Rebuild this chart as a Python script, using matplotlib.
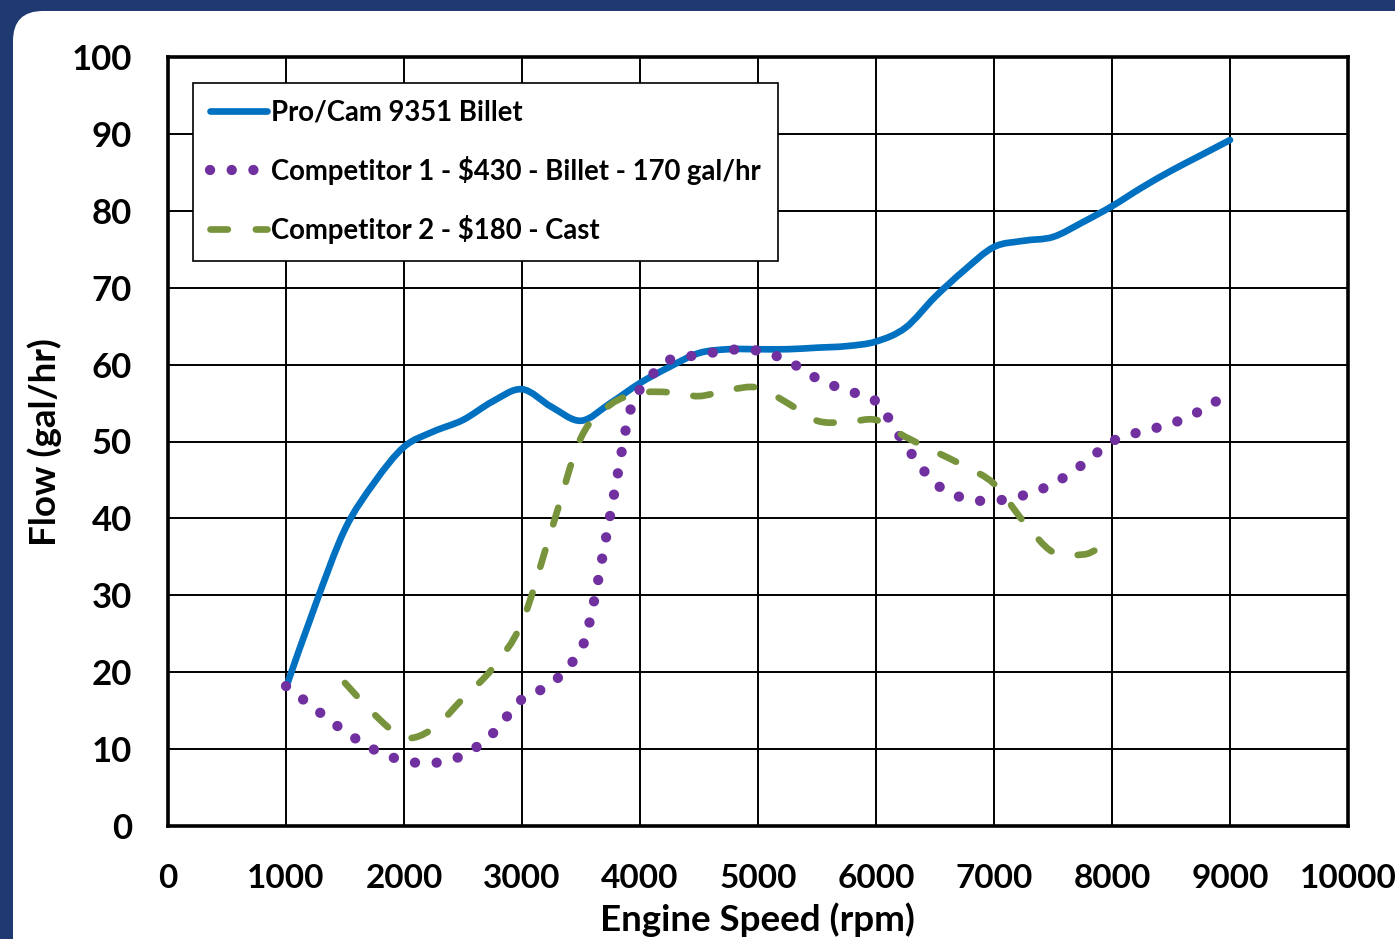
import matplotlib
matplotlib.use("Agg")
import numpy as np
import matplotlib.pyplot as plt
from matplotlib.patches import FancyBboxPatch, PathPatch
from matplotlib.path import Path
from matplotlib.lines import Line2D
from matplotlib.transforms import IdentityTransform

plt.rcParams['font.family'] = ['Lato', 'DejaVu Sans']
plt.rcParams['font.weight'] = 'bold'

# Pro/Cam 9351 Billet
procam_rpm = [1000, 1250, 1500, 1750, 2000, 2250, 2500, 2750, 3000, 3250, 3500, 3750,
              4000, 4250, 4500, 4750, 5000, 5250, 5500, 5750, 6000, 6250, 6500, 6750,
              7000, 7250, 7500, 7750, 8000, 8250, 8500, 8750, 9000]
procam_flow = [18.0, 28.8, 38.6, 44.7, 49.3, 51.3, 52.8, 55.2, 56.8, 54.5, 52.7, 55.0,
               57.6, 59.7, 61.5, 62.0, 62.0, 62.0, 62.2, 62.4, 63.0, 64.8, 68.8, 72.3,
               75.3, 76.1, 76.6, 78.5, 80.6, 83.0, 85.2, 87.2, 89.2]

# Competitor 1 - $430 - Billet
comp1_rpm = [1000, 1250, 1500, 1750, 2000, 2250, 2500, 2750, 3000, 3250, 3500, 3600,
             3700, 3800, 3900, 4000, 4250, 4500, 4750, 5000, 5250, 5500, 5750, 6000,
             6250, 6500, 6750, 7000, 7250, 7500, 7750, 8000, 8250, 8500, 8750, 8880]
comp1_flow = [18.2, 15.2, 12.3, 9.9, 8.5, 8.2, 9.2, 12.0, 16.5, 18.5, 23.0, 28.5,
              36.5, 44.8, 53.0, 56.8, 60.6, 61.2, 61.9, 61.8, 60.5, 58.2, 56.6, 55.2,
              49.5, 44.6, 42.6, 42.3, 43.0, 44.5, 47.0, 50.0, 51.3, 52.3, 54.0, 55.2]

# Competitor 2 - $180 - Cast
comp2_rpm = [1500, 1750, 2000, 2250, 2500, 2750, 3000, 3250, 3500, 3750, 4000, 4250,
             4500, 4750, 5000, 5250, 5500, 5750, 6000, 6250, 6500, 6750, 7000, 7250,
             7500, 7750, 7850]
comp2_flow = [18.6, 14.5, 11.5, 12.7, 16.6, 20.5, 26.5, 38.5, 50.5, 54.8, 56.3, 56.4,
              55.9, 56.7, 57.0, 55.0, 52.7, 52.5, 52.8, 50.6, 48.7, 46.8, 44.5, 39.6,
              35.6, 35.3, 35.8]

x_ticks = list(range(0, 10001, 1000))
y_ticks = list(range(0, 101, 10))

names = ['Pro/Cam 9351 Billet',
         'Competitor 1 - $430 - Billet - 170 gal/hr',
         'Competitor 2 - $180 - Cast']


def smooth_path(xs, ys):
    # Excel-like smoothed line: cubic bezier through every point
    pts = list(zip(xs, ys))
    n = len(pts)
    verts = [pts[0]]
    codes = [Path.MOVETO]
    for i in range(n - 1):
        p0 = pts[i - 1] if i > 0 else pts[i]
        p1 = pts[i]
        p2 = pts[i + 1]
        p3 = pts[i + 2] if i + 2 < n else pts[i + 1]
        c1 = (p1[0] + (p2[0] - p0[0]) / 6, p1[1] + (p2[1] - p0[1]) / 6)
        c2 = (p2[0] - (p3[0] - p1[0]) / 6, p2[1] - (p3[1] - p1[1]) / 6)
        verts += [c1, c2, p2]
        codes += [Path.CURVE4] * 3
    return Path(verts, codes)


def fit_dashes(path, lw, on, off, dpi=100):
    # stretch the gap a little so the pattern ends on a dash, like Excel does
    disp = ax.transData.transform_path(path)
    length = 0.0
    for poly in disp.to_polygons(closed_only=False):
        length += np.sum(np.hypot(*np.diff(poly, axis=0).T))
    lw_px = lw * dpi / 72
    period = (on + off) * lw_px
    n = max(1, round((length - on * lw_px) / period))
    new_period = (length - on * lw_px) / n
    return (0, (on, new_period / lw_px - on))


navy = '#1F3A70'
fig = plt.figure(figsize=(13.95, 9.39), dpi=100, facecolor=navy)

# white rounded panel behind everything
panel = FancyBboxPatch((13, -60), 1500, 988, boxstyle="round,pad=0,rounding_size=30",
                       transform=IdentityTransform(), facecolor='white', edgecolor='none',
                       zorder=-10)
fig.patches.append(panel)

ax = fig.add_axes([168 / 1395, 1 - 826 / 939, 1180 / 1395, 769 / 939])
ax.set_facecolor('white')
ax.set_xlim(0, 10000)
ax.set_ylim(0, 100)

styles = [
    dict(color='#0070C0', lw=4.8, dash=None),
    dict(color='#7030A0', lw=7.4, dash=(0.01, 2.1)),
    dict(color='#77933C', lw=4.8, dash=(2.6, 4.2)),
]
series = [(procam_rpm, procam_flow), (comp1_rpm, comp1_flow), (comp2_rpm, comp2_flow)]

handles = []
for (xs, ys), st, name in zip(series, styles, names):
    path = smooth_path(xs, ys)
    if st['dash'] is None:
        ls = '-'
        leg_ls = '-'
    else:
        ls = fit_dashes(path, st['lw'], *st['dash'])
        leg_ls = (0, st['dash'])
    patch = PathPatch(path, facecolor='none', edgecolor=st['color'],
                      lw=st['lw'], linestyle=ls, capstyle='round',
                      joinstyle='round', zorder=3)
    ax.add_patch(patch)
    handles.append(Line2D([], [], color=st['color'], lw=st['lw'], linestyle=leg_ls,
                          dash_capstyle='round', solid_capstyle='round', label=name))

ax.set_xticks(x_ticks)
ax.set_yticks(y_ticks)
ax.grid(True, color='black', lw=1.4)
ax.set_axisbelow(True)
for s in ax.spines.values():
    s.set_linewidth(2.6)
    s.set_color('black')
    s.set_zorder(2.5)
ax.tick_params(length=0, labelsize=25)
ax.tick_params(axis='x', pad=27, labelsize=24)
ax.tick_params(axis='y', pad=26)
for lab in ax.get_xticklabels() + ax.get_yticklabels():
    lab.set_fontweight('bold')

fig.text(757 / 1395, 1 - 920 / 939, 'Engine Speed (rpm)', ha='center', va='center',
         fontsize=26.5, fontweight='bold')
fig.text(45 / 1395, 1 - 442 / 939, 'Flow (gal/hr)', ha='center', va='center',
         rotation=90, fontsize=26.5, fontweight='bold')

leg = ax.legend(handles=handles, loc='upper left', bbox_to_anchor=(25 / 1180, 1 - 26 / 769),
                fontsize=19.8, frameon=True, fancybox=False, shadow=False, framealpha=1,
                handlelength=2.1, handletextpad=0.15, labelspacing=1.1,
                borderpad=0.6, borderaxespad=0)
leg.get_frame().set_edgecolor('black')
leg.get_frame().set_linewidth(1.2)
leg.set_zorder(5)
for t in leg.get_texts():
    t.set_fontweight('bold')

fig.savefig('out.png', dpi=100, facecolor=navy)
